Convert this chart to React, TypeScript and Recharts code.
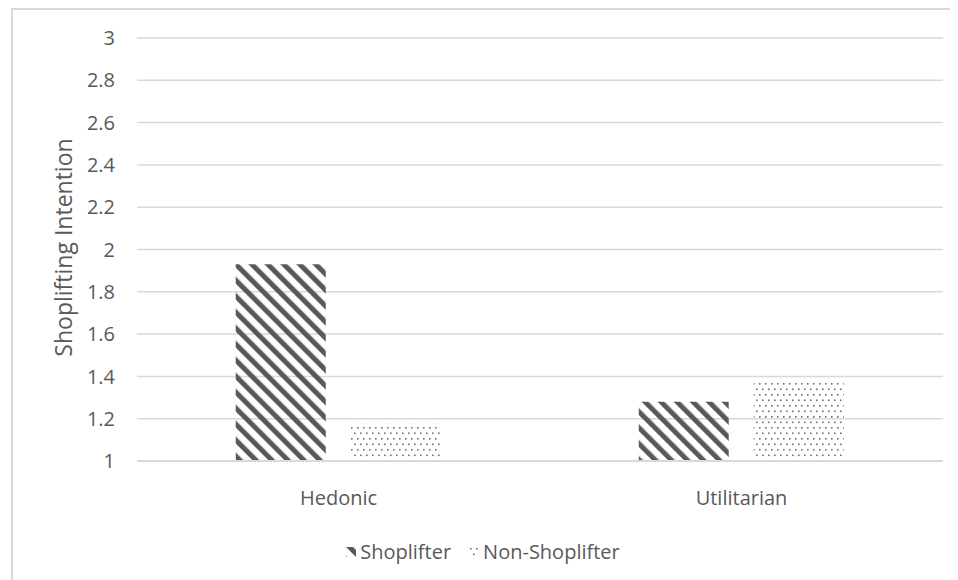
import React from 'react';
import { BarChart, Bar, XAxis, YAxis, CartesianGrid, Legend } from 'recharts';

const categories = ['Hedonic', 'Utilitarian'];
const shoplifter = [1.93, 1.28];
const nonShoplifter = [1.18, 1.38];
const yTicks = [1, 1.2, 1.4, 1.6, 1.8, 2, 2.2, 2.4, 2.6, 2.8, 3];
const seriesNames = ['Shoplifter', 'Non-Shoplifter'];

const data = categories.map((name, i) => ({
  name,
  shoplifter: shoplifter[i],
  nonShoplifter: nonShoplifter[i],
}));

const FONT = '"Open Sans", sans-serif';
const TEXT = '#595959';
const GRID = '#d9d9d9';
const FILLS = ['url(#stripes)', 'url(#dots)'];

const YLabel = ({ viewBox }: any) => {
  const cx = 63 - 8;
  const cy = viewBox.y + viewBox.height / 2 - 2;
  return (
    <text
      x={cx}
      y={cy}
      transform={`rotate(-90, ${cx}, ${cy})`}
      textAnchor="middle"
      dominantBaseline="central"
      fill={TEXT}
      fontSize={23}
      fontFamily={FONT}
    >
      Shoplifting Intention
    </text>
  );
};

const LegendContent = () => (
  <div style={{ display: 'flex', justifyContent: 'center', alignItems: 'center', gap: 18, color: TEXT, fontSize: 20, fontFamily: FONT }}>
    {seriesNames.map((n, i) => (
      <div key={n} style={{ display: 'flex', alignItems: 'center' }}>
        <svg width={10} height={10} style={{ marginRight: 4 }}>
          <rect x={0} y={0} width={10} height={10} fill={FILLS[i]} />
        </svg>
        <span>{n}</span>
      </div>
    ))}
  </div>
);

export default function App() {
  return (
    <div style={{ position: 'relative', width: 950, height: 572, overflow: 'hidden', fontFamily: FONT }}>
      {/* outer chart border, only the top and left edges are visible */}
      <div
        style={{
          position: 'absolute',
          left: 3,
          top: 0,
          right: -10,
          bottom: -10,
          borderLeft: `2px solid ${GRID}`,
          borderTop: `2px solid ${GRID}`,
        }}
      />
      <svg width={0} height={0} style={{ position: 'absolute' }}>
        <defs>
          <pattern id="stripes" width={11.3} height={11.3} patternUnits="userSpaceOnUse" patternTransform="rotate(-45)">
            <rect x={0} y={0} width={5} height={11.3} fill="#595959" />
          </pattern>
          <pattern id="dots" width={6} height={11} patternUnits="userSpaceOnUse">
            <rect x={1} y={1} width={1.6} height={1.6} fill="#6f6f6f" />
            <rect x={4} y={6.5} width={1.6} height={1.6} fill="#6f6f6f" />
          </pattern>
        </defs>
      </svg>
      <BarChart
        width={950}
        height={572}
        data={data}
        margin={{ top: 30, right: 15, left: 69, bottom: 79 }}
        barGap={25}
        barCategoryGap="24.5%"
        style={{ position: 'absolute', left: 0, top: 0 }}
      >
        <CartesianGrid vertical={false} stroke={GRID} strokeWidth={1.5} />
        <XAxis
          dataKey="name"
          height={40}
          tickLine={false}
          axisLine={{ stroke: GRID, strokeWidth: 2 }}
          tickMargin={24}
          tick={{ fill: TEXT, fontSize: 20, fontFamily: FONT }}
        />
        <YAxis
          width={60}
          domain={[1, 3]}
          ticks={yTicks}
          interval={0}
          tickLine={false}
          axisLine={false}
          tickSize={0}
          tickMargin={22}
          tick={{ fill: TEXT, fontSize: 20, fontFamily: FONT }}
          label={{ content: YLabel }}
        />
        <Legend
          verticalAlign="middle"
          align="center"
          wrapperStyle={{ top: 530, left: 0, width: 950 }}
          content={LegendContent}
        />
        <Bar dataKey="shoplifter" name={seriesNames[0]} fill={FILLS[0]} isAnimationActive={false} />
        <Bar dataKey="nonShoplifter" name={seriesNames[1]} fill={FILLS[1]} isAnimationActive={false} />
      </BarChart>
    </div>
  );
}
